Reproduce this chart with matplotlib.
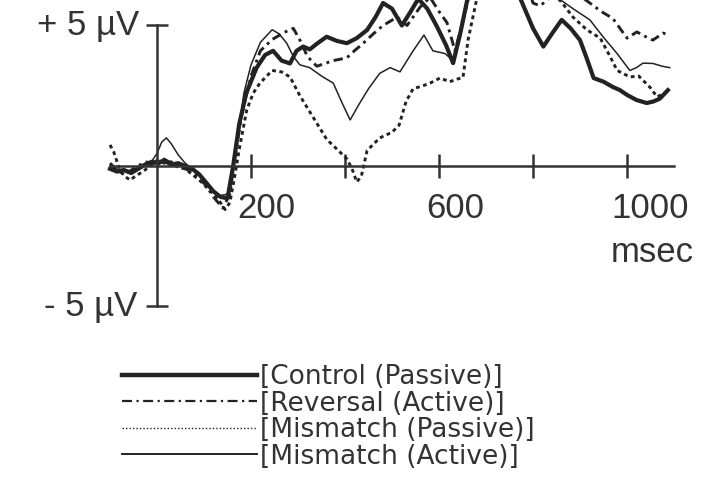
import numpy as np
import matplotlib.pyplot as plt
from matplotlib.lines import Line2D

# ERP traces (time in ms, amplitude in microvolts)
t_control = [-100, -85, -70, -55, -40, -25, -10, 0, 15, 30, 45, 60, 75, 90, 105, 120, 135, 150,
             162, 175, 190, 212, 230, 247, 265, 283, 297, 311, 325, 340, 361, 383, 404, 425, 447,
             465, 481, 500, 521, 538, 556, 575, 596, 615, 630, 645, 660, 680, 710, 740, 772, 800,
             822, 840, 861, 880, 900, 915, 929, 950, 970, 985, 1000, 1020, 1042, 1057, 1070, 1087]
v_control = [-0.1, -0.2, -0.15, -0.25, -0.1, 0.05, 0.15, 0.1, 0.2, 0.05, 0.1, 0.0, -0.1, -0.3,
             -0.6, -0.9, -1.1, -1.15, 0.0, 1.5, 2.6, 3.5, 3.95, 4.1, 3.75, 3.65, 4.1, 4.25, 4.15,
             4.35, 4.6, 4.45, 4.37, 4.55, 4.84, 5.3, 5.8, 5.6, 5.0, 5.45, 5.95, 5.6, 4.95, 4.3,
             3.66, 4.7, 5.9, 7.4, 8.2, 7.8, 6.0, 4.9, 4.25, 4.7, 5.2, 4.9, 4.48, 3.8, 3.13, 3.0,
             2.81, 2.7, 2.53, 2.35, 2.24, 2.3, 2.4, 2.7]

t_reversal = [-100, -85, -70, -55, -40, -25, -10, 0, 15, 30, 45, 60, 75, 90, 105, 120, 140, 155,
              165, 180, 200, 220, 245, 270, 290, 305, 320, 340, 375, 404, 420, 439, 460, 481, 511,
              532, 560, 581, 600, 617, 634, 650, 666, 700, 750, 785, 800, 815, 830, 850, 880, 921,
              945, 970, 985, 1000, 1021, 1040, 1055, 1077, 1090]
v_reversal = [0.1, -0.15, -0.3, -0.15, 0.0, 0.15, 0.1, 0.0, 0.25, 0.1, 0.0, -0.1, -0.2, -0.45,
              -0.7, -1.1, -1.5, -1.0, 0.2, 1.8, 3.2, 4.1, 4.5, 4.75, 4.9, 4.45, 3.9, 3.55, 3.75,
              3.85, 4.1, 4.37, 4.7, 5.0, 5.3, 5.0, 5.66, 6.0, 5.5, 5.1, 4.1, 5.1, 6.2, 8.0, 8.3,
              6.6, 5.8, 5.7, 5.9, 6.3, 6.3, 5.8, 5.5, 5.25, 4.9, 4.55, 4.77, 4.6, 4.48, 4.73, 4.65]

t_mm_passive = [-100, -92, -80, -70, -57, -45, -30, -15, 0, 15, 30, 45, 60, 75, 90, 105, 120, 135,
                145, 155, 165, 175, 191, 205, 219, 245, 265, 283, 304, 332, 361, 389, 404, 415,
                425, 435, 447, 474, 500, 515, 530, 545, 565, 581, 602, 623, 640, 651, 662, 681,
                720, 770, 820, 845, 860, 885, 915, 943, 964, 979, 1006, 1025, 1049, 1064, 1085]
v_mm_passive = [0.75, 0.5, -0.1, -0.35, -0.5, -0.35, -0.2, 0.0, 0.2, 0.1, 0.15, -0.05, -0.1, -0.3,
                -0.5, -0.75, -1.0, -1.3, -1.55, -1.3, -0.4, 0.6, 2.0, 2.6, 2.95, 3.4, 3.35, 3.17,
                2.5, 1.74, 0.95, 0.5, 0.25, -0.1, -0.57, -0.35, 0.55, 1.0, 1.2, 1.45, 2.3, 2.75,
                2.85, 2.95, 3.13, 3.0, 3.1, 3.15, 4.5, 6.0, 8.8, 8.8, 7.0, 6.1, 5.85, 5.3, 4.84,
                4.55, 3.9, 3.4, 3.17, 3.2, 2.8, 2.46, 2.64]

t_mm_active = [-100, -85, -70, -55, -40, -25, -10, 0, 10, 20, 30, 45, 60, 75, 90, 105, 120, 135,
               150, 160, 170, 185, 200, 220, 245, 260, 276, 290, 304, 325, 350, 375, 395, 411, 430,
               450, 474, 496, 517, 545, 568, 587, 613, 630, 645, 660, 690, 730, 780, 820, 851, 885,
               921, 949, 979, 1006, 1020, 1034, 1055, 1075, 1091]
v_mm_active = [0.0, -0.15, -0.1, -0.2, -0.05, 0.1, 0.2, 0.45, 0.85, 1.0, 0.8, 0.4, 0.1, -0.1, -0.3,
               -0.6, -0.9, -1.05, -1.0, -0.3, 0.8, 2.6, 3.6, 4.4, 4.85, 4.7, 4.37, 3.9, 3.6, 3.5,
               3.2, 2.95, 2.2, 1.64, 2.2, 2.75, 3.3, 3.5, 3.35, 4.1, 4.66, 4.1, 4.0, 3.75, 4.8, 6.0,
               7.6, 8.2, 7.6, 6.6, 6.0, 5.6, 5.2, 4.6, 4.0, 3.4, 3.5, 3.66, 3.65, 3.55, 3.5]

labels = ['[Control (Passive)]', '[Reversal (Active)]',
          '[Mismatch (Passive)]', '[Mismatch (Active)]']
x_ticks = [200, 400, 600, 800, 1000]

ink = '#222222'
txt = '#333333'

# pixel layout of the original: origin at (157, 166), 0.47 px per ms, 28.1 px per uV
def ms(px):
    return (px - 157) / 0.47

fig = plt.figure(figsize=(7.27, 4.95), dpi=100)
ax = fig.add_axes([0, 0, 1, 1])
ax.set_xlim(ms(0), ms(727))
ax.set_ylim((166 - 495) / 28.1, 166 / 28.1)

ax.plot(t_control, v_control, color=ink, lw=3.0, solid_joinstyle='round')
ax.plot(t_reversal, v_reversal, color=ink, lw=2.1, linestyle=(0, (3.2, 1.6, 1.0, 1.6)))
ax.plot(t_mm_passive, v_mm_passive, color=ink, lw=2.1, linestyle=(0, (1.3, 1.2)))
ax.plot(t_mm_active, v_mm_active, color=ink, lw=1.1)

for s in ['top', 'right']:
    ax.spines[s].set_visible(False)
ax.spines['left'].set_position(('data', 0))
ax.spines['left'].set_bounds(-5, 5)
ax.spines['bottom'].set_position(('data', 0))
ax.spines['bottom'].set_bounds(-100, 1100)
for s in ['left', 'bottom']:
    ax.spines[s].set_linewidth(1.8)
    ax.spines[s].set_color(txt)

ax.set_xticks(x_ticks)
ax.set_yticks([-5, 5])
ax.tick_params(axis='x', direction='inout', length=17, width=1.8, color=txt, labelbottom=False)
ax.tick_params(axis='y', direction='inout', length=16, width=1.8, color=txt, labelleft=False)

font = dict(family='Liberation Sans', size=25, color=txt)
ax.text(ms(237), -1.85, '200', ha='left', va='baseline', **font)
ax.text(ms(426), -1.85, '600', ha='left', va='baseline', **font)
ax.text(ms(611), -1.85, '1000', ha='left', va='baseline', **font)
ax.text(ms(611), -3.42, 'msec', ha='left', va='baseline', **font)
ax.text(ms(139), 5, '+ 5 µV', ha='right', va='center', **font)
ax.text(ms(137), -5, '- 5 µV', ha='right', va='center', **font)

handles = [Line2D([], [], color=ink, lw=3.2),
           Line2D([], [], color=ink, lw=1.6, linestyle=(0, (4.5, 2, 1, 2))),
           Line2D([], [], color=ink, lw=1.0, linestyle=(0, (1, 1.5))),
           Line2D([], [], color=ink, lw=1.4)]
leg = fig.legend(handles, labels, loc='upper left', bbox_to_anchor=(122 / 727, 1 - 364 / 495),
                 frameon=False, prop={'family': 'DejaVu Sans', 'size': 19},
                 handlelength=5.1, handletextpad=0.12, labelspacing=0.02,
                 borderpad=0, borderaxespad=0)
for t in leg.get_texts():
    t.set_color(txt)

fig.savefig('out.png', dpi=100)
